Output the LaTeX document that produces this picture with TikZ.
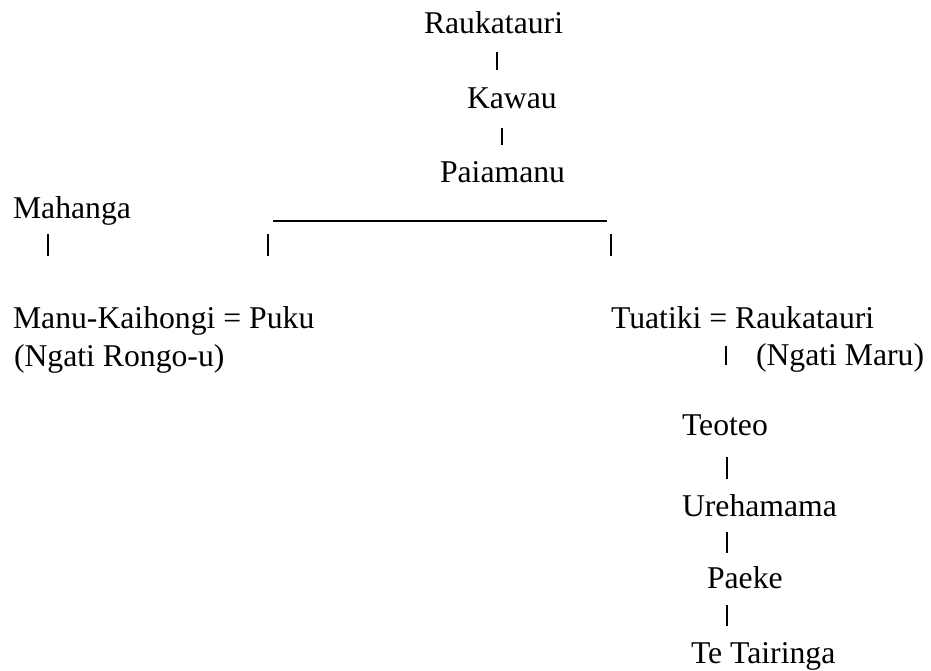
\documentclass[tikz,border=0pt]{standalone}
\usepackage{fontspec}
\setmainfont{Liberation Serif}
\newfontfamily\tnr{Liberation Serif}
\begin{document}
\begin{tikzpicture}[x=1pt,y=-1pt,
  person/.style={anchor=base west,inner sep=0pt,outer sep=0pt,font=\tnr\fontsize{31.7}{38}\selectfont},
  bar/.style={line width=1.4pt,black},
  rule/.style={line width=1.4pt,black}]
\useasboundingbox (0,0) rectangle (931,670);
% names
\node[person] (rauk)  at (424,33)  {Raukatauri};
\node[person] (kawau) at (467,108) {Kawau};
\node[person] (paia)  at (440,182) {Paiamanu};
\node[person] (mah)   at (13,218)  {Mahanga};
\node[person] (manu)  at (13,328)  {Manu-Kaihongi = Puku};
\node[person] (ngr)   at (14,366)  {(Ngati Rongo-u)};
\node[person] (tua)   at (611,328) {Tuatiki = Raukatauri};
\node[person] (ngm)   at (756,365) {(Ngati Maru)};
\node[person] (teo)   at (682,435) {Teoteo};
\node[person] (ure)   at (682,516) {Urehamama};
\node[person] (pae)   at (707,588) {Paeke};
\node[person] (tet)   at (691,663) {Te Tairinga};
% bar end points
\coordinate (b1t) at (497,52);  \coordinate (b1b) at (497,70);
\coordinate (b2t) at (502,128); \coordinate (b2b) at (502,145);
\coordinate (u1)  at (273,221); \coordinate (u2)  at (607,221);
\coordinate (b3t) at (48,234);  \coordinate (b3b) at (48,256);
\coordinate (b4t) at (268,234); \coordinate (b4b) at (268,256);
\coordinate (b5t) at (611,234); \coordinate (b5b) at (611,256);
\coordinate (b6t) at (726,346); \coordinate (b6b) at (726,365);
\coordinate (b7t) at (727,457); \coordinate (b7b) at (727,479);
\coordinate (b8t) at (727,532); \coordinate (b8b) at (727,553);
\coordinate (b9t) at (727,605); \coordinate (b9b) at (727,626);
% connectors
\draw[bar] (b1t) -- (b1b);
\draw[bar] (b2t) -- (b2b);
\draw[rule] (u1) -- (u2);
\draw[bar] (b3t) -- (b3b);
\draw[bar] (b4t) -- (b4b);
\draw[bar] (b5t) -- (b5b);
\draw[bar] (b6t) -- (b6b);
\draw[bar] (b7t) -- (b7b);
\draw[bar] (b8t) -- (b8b);
\draw[bar] (b9t) -- (b9b);
\end{tikzpicture}
\end{document}
